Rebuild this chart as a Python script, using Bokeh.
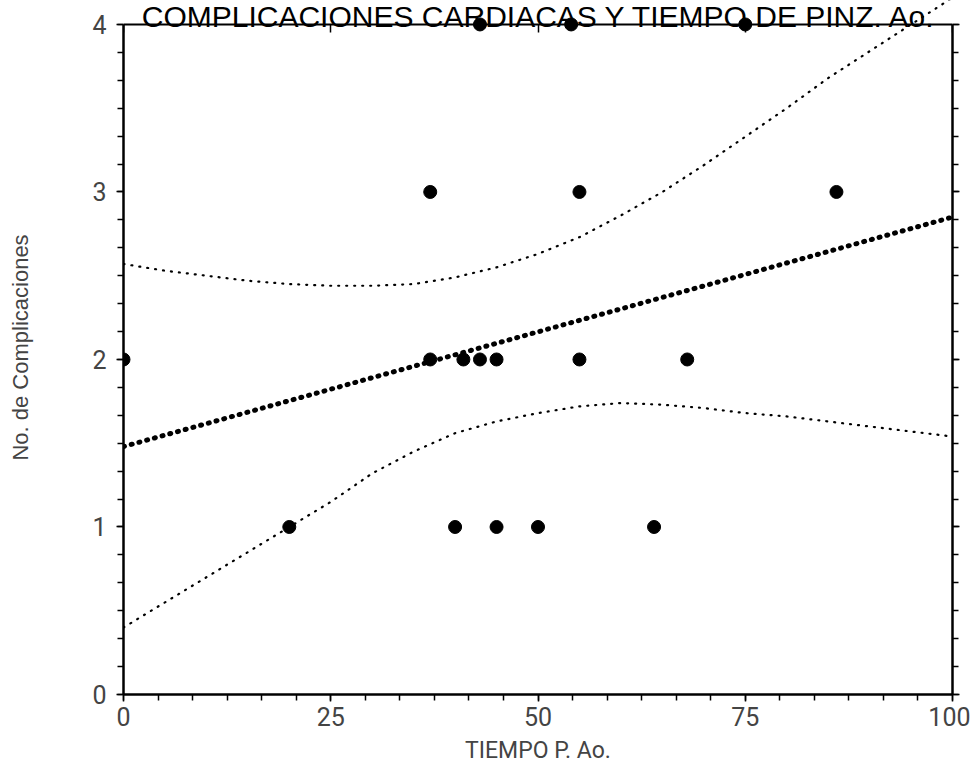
from bokeh.plotting import figure
from bokeh.models import Range1d, FixedTicker, LinearAxis, Label, ColumnDataSource
from bokeh.embed import file_html
from bokeh.resources import INLINE

# ---- data ----
tiempo = [0, 20, 37, 37, 40, 41, 43, 43, 45, 45, 50, 54, 55, 55, 64, 68, 75, 86]
complicaciones = [2, 1, 3, 2, 1, 2, 4, 2, 2, 1, 1, 4, 3, 2, 1, 2, 4, 3]

fit_x = [0, 100]
fit_y = [1.48, 2.85]

band_x = [0, 5, 10, 15, 20, 25, 30, 35, 40, 45, 50, 55, 60, 65, 70, 75, 80, 85, 90, 95, 100]
band_upper = [2.57, 2.53, 2.50, 2.47, 2.45, 2.44, 2.44, 2.45, 2.49, 2.55, 2.63, 2.73,
              2.86, 3.00, 3.16, 3.33, 3.50, 3.68, 3.84, 4.00, 4.16]
band_lower = [0.40, 0.55, 0.70, 0.85, 1.00, 1.15, 1.32, 1.45, 1.56, 1.63, 1.68, 1.72,
              1.74, 1.73, 1.71, 1.68, 1.66, 1.63, 1.60, 1.57, 1.54]

x_ticks = [0, 25, 50, 75, 100]
y_ticks = [0, 1, 2, 3, 4]

title_text = "COMPLICACIONES CARDIACAS  Y TIEMPO DE PINZ. Ao."
x_label = "TIEMPO P. Ao."
y_label = "No. de Complicaciones"

TICK_FONT = "Roboto"
LABEL_FONT = "Liberation Sans"

# y range reaches a little above 4 so the title band above the box is inside the frame
Y_TOP = 4.143

p = figure(width=970, height=770, output_backend="svg", toolbar_location=None,
           x_range=Range1d(0, 100), y_range=Range1d(0, Y_TOP),
           x_axis_location=None, y_axis_location=None,
           min_border_left=123, min_border_right=18, min_border_top=0, min_border_bottom=76)
p.outline_line_color = None
p.background_fill_color = "white"
p.border_fill_color = "white"
p.xgrid.visible = False
p.ygrid.visible = False

x_minor = [i * 25 / 6 for i in range(25)]
y_minor = [i / 6 for i in range(25)]


def style(ax, labels=True):
    ax.axis_line_color = "black"
    ax.axis_line_width = 2.5
    ax.major_tick_line_color = "black"
    ax.minor_tick_line_color = "black"
    ax.major_tick_line_width = 1.5
    ax.minor_tick_line_width = 1.5
    if not labels:
        ax.major_label_text_font_size = "0px"
        ax.major_label_text_color = None


bottom = LinearAxis(ticker=FixedTicker(ticks=x_ticks, minor_ticks=x_minor))
style(bottom)
bottom.major_tick_out = 7
bottom.major_tick_in = 0
bottom.minor_tick_out = 6
bottom.minor_tick_in = 0
bottom.major_label_text_font = TICK_FONT
bottom.major_label_text_font_size = "25px"
bottom.major_label_standoff = 5
bottom.axis_label = x_label
bottom.axis_label_text_font = TICK_FONT
bottom.axis_label_text_font_size = "23px"
bottom.axis_label_text_font_style = "normal"
bottom.axis_label_standoff = 8
p.add_layout(bottom, "below")

left = LinearAxis(ticker=FixedTicker(ticks=y_ticks, minor_ticks=y_minor), bounds=(0, 4))
style(left)
left.major_tick_out = 7
left.major_tick_in = 0
left.minor_tick_out = 6
left.minor_tick_in = 0
left.major_label_text_font = TICK_FONT
left.major_label_text_font_size = "25px"
left.major_label_standoff = 10
left.axis_label = y_label
left.axis_label_text_font = LABEL_FONT
left.axis_label_text_font_size = "22px"
left.axis_label_text_font_style = "normal"
left.axis_label_standoff = 56
p.add_layout(left, "left")

right = LinearAxis(ticker=FixedTicker(ticks=y_ticks, minor_ticks=y_minor), bounds=(0, 4))
style(right, labels=False)
right.major_tick_out = 7
right.major_tick_in = 0
right.minor_tick_out = 6
right.minor_tick_in = 0
right.major_label_standoff = 0
p.add_layout(right, "right")

top = LinearAxis(ticker=FixedTicker(ticks=x_ticks, minor_ticks=x_minor), fixed_location=4)
style(top, labels=False)
top.axis_line_width = 2
top.major_tick_out = 0
top.major_tick_in = 8
top.minor_tick_out = 0
top.minor_tick_in = 0
top.major_label_standoff = 0
p.add_layout(top, "above")

# confidence bands (thin dotted)
p.line(band_x, band_upper, line_color="black", line_width=2.2, line_dash="1 7", line_cap="round")
p.line(band_x, band_lower, line_color="black", line_width=2.2, line_dash="1 7", line_cap="round")
# regression line (heavy dotted)
p.line(fit_x, fit_y, line_color="black", line_width=5, line_dash="1 7", line_cap="round")

src = ColumnDataSource(dict(x=tiempo, y=complicaciones))
p.scatter("x", "y", source=src, marker="circle", size=13, fill_color="black", line_color="black")

title = Label(x=2.2, y=4.045, text=title_text, text_font=LABEL_FONT, text_font_size="30px",
              text_baseline="alphabetic", text_align="left", text_color="black", level="overlay")
p.add_layout(title)

open("out.html", "w").write(file_html(p, INLINE))
